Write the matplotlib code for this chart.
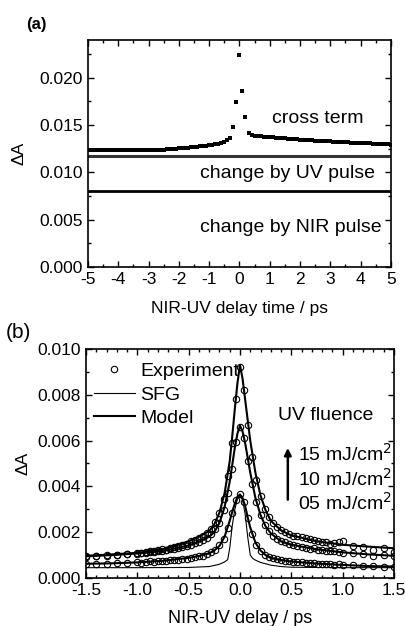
import numpy as np
import matplotlib
matplotlib.use("Agg")
import matplotlib.pyplot as plt
from matplotlib.ticker import MultipleLocator, FormatStrFormatter

plt.rcParams['font.family'] = ['Liberation Sans', 'DejaVu Sans']
plt.rcParams['font.size'] = 12.5
plt.rcParams['axes.unicode_minus'] = False

# ---------- panel (a) data: delay (ps) and dA (x1e-3) ----------
x_a = [-5.0, -4.9, -4.8, -4.7, -4.6, -4.5, -4.4, -4.3, -4.2, -4.1,
       -4.0, -3.9, -3.8, -3.7, -3.6, -3.5, -3.4, -3.3, -3.2, -3.1,
       -3.0, -2.9, -2.8, -2.7, -2.6, -2.5, -2.4, -2.3, -2.2, -2.1,
       -2.0, -1.9, -1.8, -1.7, -1.6, -1.5, -1.4, -1.3, -1.2, -1.1,
       -1.0, -0.9, -0.8, -0.7, -0.6, -0.5, -0.4, -0.3,
       -0.2, -0.1, 0.0, 0.1, 0.2,
       0.3, 0.4, 0.5, 0.6, 0.7, 0.8, 0.9, 1.0, 1.1, 1.2,
       1.3, 1.4, 1.5, 1.6, 1.7, 1.8, 1.9, 2.0, 2.1, 2.2,
       2.3, 2.4, 2.5, 2.6, 2.7, 2.8, 2.9, 3.0, 3.1, 3.2,
       3.3, 3.4, 3.5, 3.6, 3.7, 3.8, 3.9, 4.0, 4.1, 4.2,
       4.3, 4.4, 4.5, 4.6, 4.7, 4.8, 4.9, 5.0]
cross_term = [12.40, 12.38, 12.40, 12.37, 12.39, 12.38, 12.36, 12.38, 12.37, 12.39,
              12.36, 12.38, 12.37, 12.36, 12.38, 12.37, 12.35, 12.37, 12.36, 12.35,
              12.36, 12.37, 12.36, 12.38, 12.40, 12.42, 12.44, 12.46, 12.48, 12.51,
              12.53, 12.56, 12.59, 12.62, 12.64, 12.67, 12.70, 12.74, 12.78, 12.82,
              12.87, 12.92, 12.98, 13.05, 13.13, 13.24, 13.40, 13.68,
              14.77, 17.41, 22.38, 18.57, 15.82,
              14.15, 13.92, 13.86, 13.82, 13.80, 13.77, 13.74, 13.72, 13.70, 13.67,
              13.65, 13.62, 13.60, 13.58, 13.55, 13.52, 13.50, 13.47, 13.45, 13.43,
              13.41, 13.38, 13.36, 13.34, 13.32, 13.30, 13.28, 13.27, 13.25, 13.24,
              13.22, 13.20, 13.19, 13.18, 13.16, 13.15, 13.13, 13.12, 13.10, 13.09,
              13.07, 13.05, 13.03, 13.01, 12.99, 12.97, 12.96, 12.95]
uv_level = 11.73
nir_level = 8.0

# ---------- panel (b) data ----------
x_exp = [-1.5, -1.4, -1.3, -1.2, -1.1,
         -1.00, -0.96, -0.92, -0.88, -0.84, -0.80, -0.76, -0.72, -0.68, -0.64,
         -0.60, -0.56, -0.52, -0.48, -0.44, -0.40, -0.36, -0.32, -0.28, -0.24,
         -0.20, -0.16, -0.12, -0.08, -0.04, 0.00, 0.04, 0.08, 0.12, 0.16,
         0.20, 0.24, 0.28, 0.32, 0.36, 0.40, 0.44, 0.48, 0.52, 0.56,
         0.60, 0.64, 0.68, 0.72, 0.76, 0.80, 0.84, 0.88, 0.92, 0.96, 1.00,
         1.1, 1.2, 1.3, 1.4, 1.5]
exp_15 = [0.95, 0.98, 1.00, 1.02, 1.05,
          1.10, 1.09, 1.14, 1.20, 1.17, 1.22, 1.28, 1.24, 1.33, 1.36,
          1.40, 1.45, 1.50, 1.62, 1.66, 1.74, 1.82, 1.95, 2.15, 2.45,
          2.85, 3.45, 4.45, 5.90, 7.80, 9.20, 8.20, 6.70, 5.30, 4.30,
          3.60, 3.00, 2.65, 2.40, 2.22, 2.10, 2.00, 1.92, 1.85, 1.82,
          1.80, 1.74, 1.70, 1.66, 1.60, 1.55, 1.58, 1.50, 1.52, 1.55, 1.60,
          1.40, 1.36, 1.22, 1.30, 1.15]
exp_10 = [0.93, 0.96, 0.98, 1.00, 1.03,
          1.06, 1.08, 1.10, 1.12, 1.14, 1.18, 1.16, 1.22, 1.25, 1.26,
          1.32, 1.35, 1.38, 1.44, 1.52, 1.58, 1.66, 1.76, 1.92, 2.12,
          2.42, 2.95, 3.70, 4.75, 5.95, 6.60, 6.10, 5.10, 4.10, 3.30,
          2.75, 2.30, 2.05, 1.85, 1.72, 1.62, 1.55, 1.48, 1.42, 1.40,
          1.35, 1.33, 1.28, 1.30, 1.24, 1.22, 1.20, 1.16, 1.18, 1.12, 1.10,
          1.08, 1.05, 0.98, 1.02, 0.95]
exp_05 = [0.60, 0.62, 0.63, 0.64, 0.65,
          0.68, 0.66, 0.70, 0.72, 0.70, 0.74, 0.75, 0.76, 0.78, 0.77,
          0.80, 0.83, 0.85, 0.86, 0.90, 0.95, 0.98, 1.04, 1.12, 1.24,
          1.42, 1.72, 2.20, 2.85, 3.40, 3.65, 3.30, 2.60, 1.90, 1.45,
          1.18, 1.02, 0.92, 0.86, 0.82, 0.78, 0.76, 0.73, 0.71, 0.70,
          0.68, 0.66, 0.65, 0.64, 0.62, 0.63, 0.60, 0.61, 0.58, 0.59, 0.58,
          0.55, 0.54, 0.52, 0.50, 0.50]

x_mod = [-1.5, -1.25, -1.0, -0.75, -0.5, -0.4, -0.3, -0.25, -0.2, -0.15,
         -0.1, -0.075, -0.05, -0.025, 0.0, 0.025, 0.05, 0.075, 0.1, 0.15,
         0.2, 0.25, 0.3, 0.4, 0.5, 0.75, 1.0, 1.25, 1.5]
model_15 = [0.97, 1.03, 1.10, 1.25, 1.60, 1.80, 2.05, 2.35, 2.85, 3.70,
            5.10, 6.20, 7.40, 8.50, 9.30, 8.70, 7.80, 6.90, 6.00, 4.60,
            3.60, 2.95, 2.50, 2.08, 1.86, 1.60, 1.45, 1.37, 1.30]
model_10 = [0.95, 1.00, 1.07, 1.18, 1.42, 1.58, 1.80, 2.00, 2.40, 3.10,
            4.20, 4.95, 5.70, 6.30, 6.65, 6.40, 5.90, 5.25, 4.60, 3.50,
            2.75, 2.25, 1.95, 1.60, 1.45, 1.25, 1.12, 1.03, 0.97]
model_05 = [0.62, 0.64, 0.68, 0.75, 0.88, 0.96, 1.08, 1.20, 1.40, 1.80,
            2.50, 2.90, 3.25, 3.55, 3.65, 3.50, 3.15, 2.65, 2.20, 1.55,
            1.20, 1.00, 0.88, 0.78, 0.72, 0.63, 0.57, 0.52, 0.50]

x_sfg = [-1.5, -1.0, -0.5, -0.3, -0.2, -0.15, -0.12, -0.1, -0.075, -0.05,
         -0.025, 0.0, 0.025, 0.05, 0.075, 0.1, 0.125, 0.15, 0.2, 0.3,
         0.4, 0.5, 1.0, 1.5]
sfg = [0.45, 0.45, 0.46, 0.50, 0.60, 0.70, 0.80, 1.30, 2.30, 3.00,
       3.45, 3.60, 3.40, 2.80, 1.80, 1.00, 0.85, 0.78, 0.68, 0.56,
       0.50, 0.47, 0.45, 0.45]

fluences = ['15 mJ/cm$^2$', '10 mJ/cm$^2$', '05 mJ/cm$^2$']
fluence_y = [0.0054, 0.00433, 0.00326]

s = 1e-3

fig = plt.figure(figsize=(4.06, 6.26), dpi=100)

def style_axes(ax):
    ax.tick_params(which='both', direction='in', top=True, right=True,
                   labelsize=12.5, width=1)
    ax.tick_params(which='major', length=4.5)
    ax.tick_params(which='minor', length=2.5)
    for sp in ax.spines.values():
        sp.set_linewidth(1.2)

# ---------- (a) ----------
ax1 = fig.add_axes([0.2167, 0.5735, 0.746, 0.3626])
ax1.plot(x_a, np.array(cross_term) * s, 's', color='black', ms=3.4, mew=0)
ax1.axhline(uv_level * s, color='#333333', lw=2.2)
ax1.axhline(nir_level * s, color='black', lw=2.0)
ax1.set_xlim(-5, 5)
ax1.set_ylim(0, 0.024)
ax1.xaxis.set_major_locator(MultipleLocator(1))
ax1.xaxis.set_minor_locator(MultipleLocator(0.5))
ax1.yaxis.set_major_locator(MultipleLocator(0.005))
ax1.yaxis.set_minor_locator(MultipleLocator(0.0025))
ax1.yaxis.set_major_formatter(FormatStrFormatter('%.3f'))
style_axes(ax1)
ax1.set_xlabel('NIR-UV delay time / ps', fontsize=12.5, labelpad=10)
ax1.set_ylabel('ΔA', fontsize=12.5, labelpad=9)
ax1.text(2.6, 0.0157, 'cross term', ha='center', va='center', fontsize=14)
ax1.text(1.6, 0.0099, 'change by UV pulse', ha='center', va='center', fontsize=14)
ax1.text(1.7, 0.0042, 'change by NIR pulse', ha='center', va='center', fontsize=14)
fig.text(36 / 406, 1 - 25 / 626, '(a)', fontsize=12, fontweight='bold',
         ha='center', va='center')

# ---------- (b) ----------
ax2 = fig.add_axes([0.2118, 0.0767, 0.7586, 0.3658])
ax2.plot(x_sfg, np.array(sfg) * s, '-', color='black', lw=0.8)
for ym in [model_15, model_10, model_05]:
    ax2.plot(x_mod, np.array(ym) * s, '-', color='black', lw=1.5)
for ye in [exp_15, exp_10, exp_05]:
    ax2.plot(x_exp, np.array(ye) * s, 'o', mfc='none', mec='black', ms=4.6,
             mew=0.8)
h_exp, = ax2.plot([], [], 'o', mfc='none', mec='black', ms=4.6, mew=0.8)
h_sfg, = ax2.plot([], [], '-', color='black', lw=0.8)
h_mod, = ax2.plot([], [], '-', color='black', lw=1.5)
ax2.legend([h_exp, h_sfg, h_mod], ['Experiment', 'SFG', 'Model'],
           loc='upper left', bbox_to_anchor=(0.012, 0.958), frameon=False,
           fontsize=14, handlelength=2.15, handletextpad=0.25,
           labelspacing=0.3, borderaxespad=0.0, borderpad=0.2)
ax2.set_xlim(-1.5, 1.5)
ax2.set_ylim(0, 0.010)
ax2.xaxis.set_major_locator(MultipleLocator(0.5))
ax2.xaxis.set_minor_locator(MultipleLocator(0.1))
ax2.yaxis.set_major_locator(MultipleLocator(0.002))
ax2.yaxis.set_minor_locator(MultipleLocator(0.001))
ax2.xaxis.set_major_formatter(FormatStrFormatter('%.1f'))
ax2.yaxis.set_major_formatter(FormatStrFormatter('%.3f'))
style_axes(ax2)
ax2.set_xlabel('NIR-UV delay / ps', fontsize=13, labelpad=9)
ax2.set_ylabel('ΔA', fontsize=12.5, labelpad=5)
ax2.text(0.37, 0.0071, 'UV fluence', ha='left', va='center', fontsize=14)
for lab, yv in zip(fluences, fluence_y):
    ax2.text(0.565, yv, lab, ha='left', va='center', fontsize=14)
ax2.annotate('', xy=(0.466, 0.0058), xytext=(0.466, 0.0033),
             arrowprops=dict(arrowstyle='-|>', color='black', lw=1.8,
                             mutation_scale=10))
fig.text(18 / 406, 1 - 333 / 626, '(b)', fontsize=15, ha='center', va='center')

fig.savefig('out.png', dpi=100)
